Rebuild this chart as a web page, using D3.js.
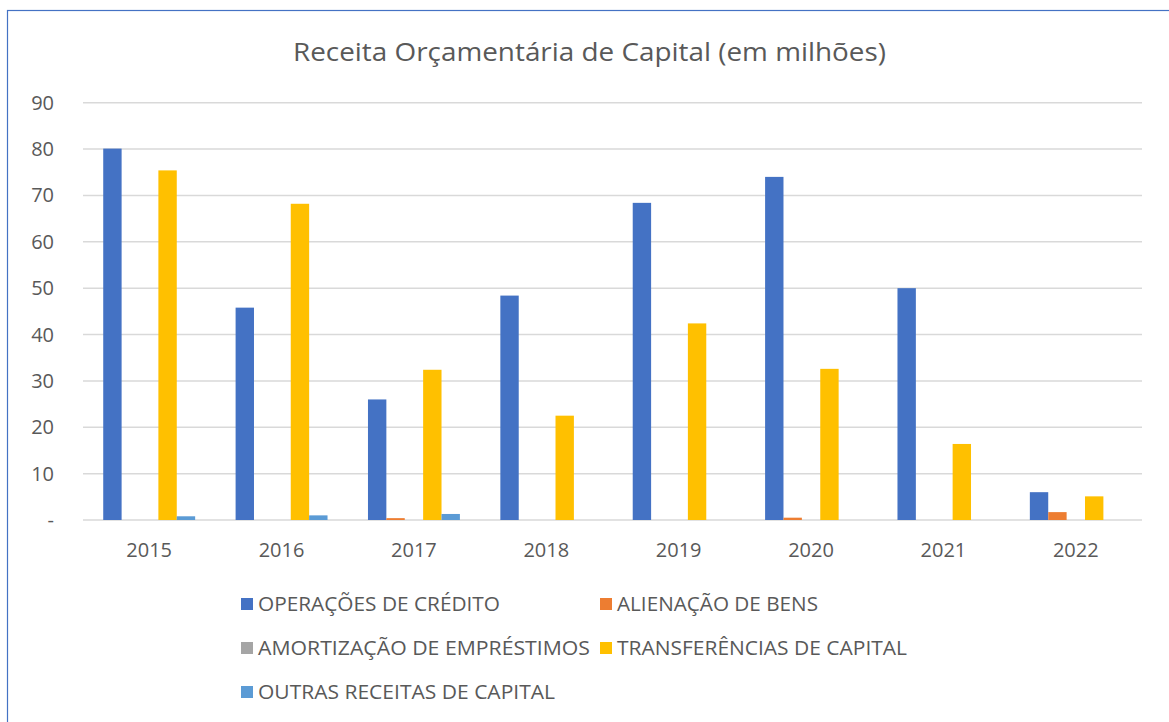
<!DOCTYPE html>
<html><head><meta charset="utf-8">
<script src="https://cdn.jsdelivr.net/npm/d3@7/dist/d3.min.js"></script>
<style>body{margin:0;background:#fff}svg{display:block}</style>
</head><body>
<script>
const years = ["2015","2016","2017","2018","2019","2020","2021","2022"];
const seriesNames = ["OPERAÇÕES DE CRÉDITO","ALIENAÇÃO DE BENS","AMORTIZAÇÃO DE EMPRÉSTIMOS","TRANSFERÊNCIAS DE CAPITAL","OUTRAS RECEITAS DE CAPITAL"];
const operacoesCredito   = [80.1, 45.8, 26.0, 48.4, 68.4, 74.0, 50.0, 6.0];
const alienacaoBens      = [0, 0, 0.4, 0, 0, 0.5, 0, 1.7];
const amortizacao        = [0, 0, 0, 0, 0, 0, 0, 0];
const transferencias     = [75.4, 68.2, 32.4, 22.5, 42.4, 32.6, 16.4, 5.1];
const outrasReceitas     = [0.8, 1.0, 1.3, 0, 0, 0, 0, 0];
const yTicks = [0,10,20,30,40,50,60,70,80,90];
const colors = ["#4472C4","#ED7D31","#A5A5A5","#FFC000","#5B9BD5"];
const title = "Receita Orçamentária de Capital (em milhões)";

const allSeries = [operacoesCredito, alienacaoBens, amortizacao, transferencias, outrasReceitas];
const W = 1169, H = 722;
const svg = d3.select("body").append("svg").attr("width", W).attr("height", H);
const font = "'Open Sans', 'Liberation Sans', sans-serif";
const txt = "#595959";

svg.append("rect").attr("x",7.5).attr("y",10.5).attr("width",1300).attr("height",900)
  .attr("fill","#fff").attr("stroke","#4472C4").attr("stroke-width",1.2);

const x0 = d3.scaleBand().domain(years).range([83,1142]).paddingInner(0).paddingOuter(0);
const x1 = d3.scaleBand().domain(d3.range(5)).range([0, x0.bandwidth()]).paddingInner(0).paddingOuter(1.1);
const y = d3.scaleLinear().domain([0,90]).range([520,102.7]);

// gridlines
svg.append("g").selectAll("line").data(yTicks).join("line")
  .attr("x1",83).attr("x2",1142).attr("y1",d=>y(d)).attr("y2",d=>y(d))
  .attr("stroke","#D9D9D9").attr("stroke-width",1.5);

// y labels
svg.append("g").selectAll("text").data(yTicks).join("text")
  .attr("x",54).attr("y",d=>y(d)).attr("dy","0.35em").attr("text-anchor","end")
  .attr("font-family",font).attr("font-size",20).attr("fill",txt)
  .text(d=> d===0 ? "-" : d);

// bars
const g = svg.append("g");
allSeries.forEach((vals, si) => {
  g.append("g").selectAll("rect").data(vals).join("rect")
    .attr("x",(d,i)=>x0(years[i]) + x1(si))
    .attr("width",x1.bandwidth())
    .attr("y",d=>y(d))
    .attr("height",d=>y(0)-y(d))
    .attr("fill",colors[si]);
});

// x labels
svg.append("g").selectAll("text").data(years).join("text")
  .attr("x",d=>x0(d)+x0.bandwidth()/2).attr("y",550).attr("dy","0.35em")
  .attr("text-anchor","middle").attr("font-family",font).attr("font-size",20).attr("fill",txt)
  .text(d=>d);

// title
svg.append("text").attr("x",589.5).attr("y",52).attr("dy","0.35em").attr("text-anchor","middle")
  .attr("font-family",font).attr("font-size",26).attr("fill",txt)
  .attr("textLength",593).attr("lengthAdjust","spacingAndGlyphs").text(title);

// legend
const legPos = [[241,604,242],[600,604,201],[241,648,332],[600,648,290],[241,692,297]];
const leg = svg.append("g");
seriesNames.forEach((name,i)=>{
  const [lx,ly,tw] = legPos[i];
  leg.append("rect").attr("x",lx).attr("y",ly-6).attr("width",12).attr("height",12).attr("fill",colors[i]);
  leg.append("text").attr("x",lx+17).attr("y",ly).attr("dy","0.35em")
    .attr("font-family",font).attr("font-size",20).attr("fill",txt)
    .attr("textLength",tw).attr("lengthAdjust","spacingAndGlyphs").text(name);
});
</script>
</body></html>
